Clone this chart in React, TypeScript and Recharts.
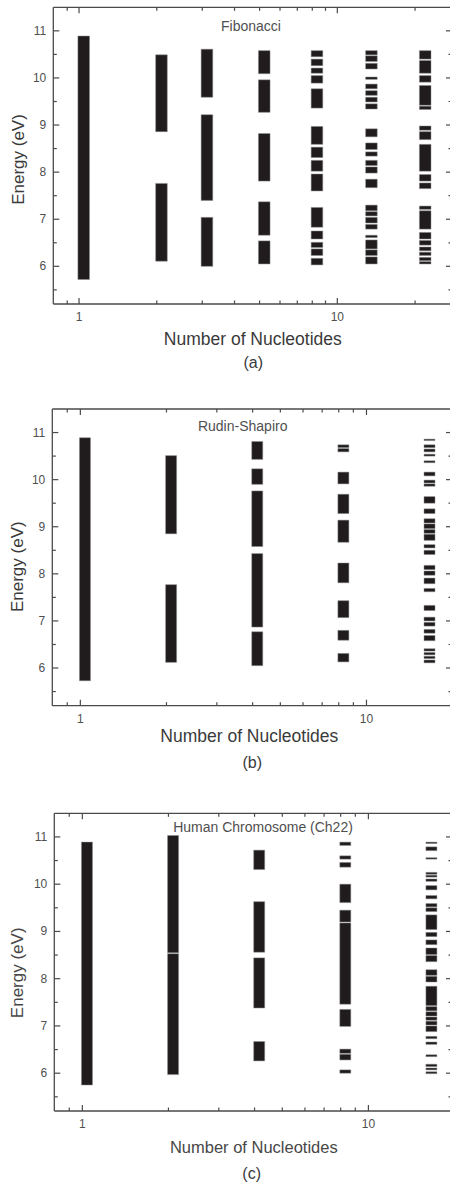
import React from 'react';
import { ComposedChart, XAxis, YAxis, ReferenceArea, Scatter } from 'recharts';

type Band = [number, number];

// ---------- data: number of nucleotides (columns) ----------
const FIB_N = [1, 2, 3, 5, 8, 13, 21];
const RS_N = [1, 2, 4, 8, 16];
const CH_N = [1, 2, 4, 8, 16];

// ---------- data: allowed energy bands [low, high] in eV ----------
const FIB_1: Band[] = [[5.72, 10.89]];
const FIB_2: Band[] = [[8.86, 10.49], [6.11, 7.76]];
const FIB_3: Band[] = [[9.59, 10.61], [7.4, 9.22], [6.0, 7.04]];
const FIB_5: Band[] = [[10.09, 10.58], [9.27, 9.96], [7.81, 8.82], [6.66, 7.37], [6.05, 6.54]];
const FIB_8: Band[] = [
  [10.45, 10.58], [10.26, 10.4], [10.1, 10.21], [9.89, 10.05], [9.36, 9.77],
  [8.59, 8.97], [8.31, 8.53], [8.02, 8.25], [7.6, 7.96],
  [6.83, 7.25], [6.58, 6.75], [6.4, 6.51], [6.23, 6.37], [6.03, 6.17],
];
const FIB_13: Band[] = [
  [10.49, 10.58], [10.35, 10.47], [10.19, 10.31], [9.97, 10.02], [9.77, 9.87],
  [9.63, 9.73], [9.49, 9.59], [9.34, 9.45],
  [8.75, 8.92], [8.48, 8.62], [8.34, 8.43], [8.14, 8.25], [7.98, 8.11], [7.67, 7.85],
  [7.18, 7.3], [7.07, 7.16], [6.92, 7.04], [6.79, 6.89], [6.61, 6.66], [6.37, 6.56],
  [6.23, 6.35], [6.05, 6.2],
];
const FIB_21: Band[] = [
  [10.4, 10.58], [10.1, 10.37], [9.91, 10.05], [9.42, 9.84], [9.33, 9.4],
  [8.89, 8.98], [8.69, 8.86], [8.02, 8.59], [7.81, 7.95], [7.65, 7.77],
  [7.21, 7.28], [6.79, 7.18], [6.58, 6.72], [6.45, 6.55], [6.33, 6.41],
  [6.23, 6.3], [6.12, 6.19], [6.05, 6.1],
];

const RS_1: Band[] = [[5.73, 10.89]];
const RS_2: Band[] = [[8.85, 10.51], [6.12, 7.77]];
const RS_4: Band[] = [[10.43, 10.81], [9.9, 10.23], [8.58, 9.76], [6.87, 8.43], [6.05, 6.77]];
const RS_8: Band[] = [
  [10.68, 10.74], [10.59, 10.66], [9.91, 10.16], [9.28, 9.69], [8.67, 9.14],
  [7.81, 8.23], [7.07, 7.43], [6.59, 6.8], [6.13, 6.31],
];
const RS_16: Band[] = [
  [10.83, 10.86], [10.68, 10.74], [10.59, 10.65], [10.5, 10.54], [10.36, 10.4],
  [10.08, 10.16], [9.93, 9.99], [9.86, 9.91], [9.5, 9.64], [9.28, 9.38],
  [9.08, 9.17], [8.96, 9.06], [8.86, 8.94], [8.71, 8.84], [8.55, 8.62],
  [8.41, 8.5], [8.09, 8.18], [7.97, 8.06], [7.79, 7.91], [7.62, 7.69],
  [7.22, 7.33], [7.0, 7.08], [6.89, 6.97], [6.74, 6.82], [6.58, 6.69],
  [6.36, 6.41], [6.28, 6.33], [6.2, 6.25], [6.11, 6.17],
];

const CH_1: Band[] = [[5.75, 10.89]];
const CH_2: Band[] = [[8.55, 11.03], [5.97, 8.53]];
const CH_4: Band[] = [[10.31, 10.72], [8.56, 9.63], [7.38, 8.44], [6.26, 6.67]];
const CH_8: Band[] = [
  [10.82, 10.89], [10.53, 10.6], [10.36, 10.46], [9.61, 10.0], [9.2, 9.45],
  [7.46, 9.18], [6.99, 7.35], [6.42, 6.51], [6.28, 6.4], [6.0, 6.07],
];
const CH_16: Band[] = [
  [10.86, 10.89], [10.71, 10.79], [10.53, 10.56], [10.21, 10.25], [10.15, 10.19],
  [10.06, 10.11], [9.88, 9.97], [9.69, 9.76], [9.52, 9.59], [9.42, 9.5],
  [9.04, 9.35], [8.89, 8.98], [8.72, 8.82], [8.51, 8.65], [8.36, 8.49],
  [8.07, 8.19], [7.93, 8.05], [7.43, 7.84], [7.32, 7.41], [7.21, 7.3],
  [7.12, 7.19], [7.02, 7.1], [6.88, 7.0], [6.73, 6.78], [6.61, 6.66],
  [6.35, 6.39], [6.14, 6.19], [6.07, 6.11], [5.99, 6.03],
];

const FIB_COLS = [FIB_1, FIB_2, FIB_3, FIB_5, FIB_8, FIB_13, FIB_21];
const RS_COLS = [RS_1, RS_2, RS_4, RS_8, RS_16];
const CH_COLS = [CH_1, CH_2, CH_4, CH_8, CH_16];

// ---------- axis ticks ----------
const X_TICKS = [0.9, 1, 2, 3, 4, 5, 6, 7, 8, 9, 10, 20];
const X_MAJOR = [1, 10];
const Y_TICKS = [5.5, 6, 6.5, 7, 7.5, 8, 8.5, 9, 9.5, 10, 10.5, 11];
const Y_MAJOR = [6, 7, 8, 9, 10, 11];
const Y_DOMAIN: [number, number] = [5.2, 11.5];

// ---------- styles ----------
const AXIS = '#4a4a4a';
const LABEL = '#505050';
const TITLE = '#3a3a3a';
const BAR = '#201c1d';
const FONT = '"Liberation Sans", Arial, Helvetica, sans-serif';
const MAJOR_LEN = 6;
const MINOR_LEN = 3.5;

const BottomTick = (p: any) => {
  const { x, y, payload } = p;
  const major = X_MAJOR.includes(payload.value);
  return (
    <g>
      <line x1={x} x2={x} y1={y} y2={y - (major ? MAJOR_LEN : MINOR_LEN)} stroke={AXIS} strokeWidth={1.2} />
      {major && (
        <text x={x} y={y + 17} textAnchor="middle" fontSize={12} fill={LABEL} fontFamily={FONT}>
          {payload.value}
        </text>
      )}
    </g>
  );
};
const TopTick = (p: any) => {
  const { x, y, payload } = p;
  const major = X_MAJOR.includes(payload.value);
  return <line x1={x} x2={x} y1={y} y2={y + (major ? MAJOR_LEN : MINOR_LEN)} stroke={AXIS} strokeWidth={1.2} />;
};
const LeftTick = (p: any) => {
  const { x, y, payload } = p;
  const major = Y_MAJOR.includes(payload.value);
  return (
    <g>
      <line x1={x} x2={x + (major ? MAJOR_LEN : MINOR_LEN)} y1={y} y2={y} stroke={AXIS} strokeWidth={1.2} />
      {major && (
        <text x={x - 7} y={y + 4} textAnchor="end" fontSize={12} fill={LABEL} fontFamily={FONT}>
          {payload.value}
        </text>
      )}
    </g>
  );
};
const RightTick = (p: any) => {
  const { x, y, payload } = p;
  const major = Y_MAJOR.includes(payload.value);
  return <line x1={x} x2={x - (major ? MAJOR_LEN : MINOR_LEN)} y1={y} y2={y} stroke={AXIS} strokeWidth={1.2} />;
};

type PanelProps = {
  top: number;
  height: number;
  plotTop: number;
  plotBottom: number;
  plotLeft: number;
  xDomain: [number, number];
  ns: number[];
  cols: Band[][];
  f1: number;
  f2: number;
};

const CHART_W = 460;
const PLOT_RIGHT = 452;
const NoShape = () => <g />;

function Panel({ top, height, plotTop, plotBottom, plotLeft, xDomain, ns, cols, f1, f2 }: PanelProps) {
  const axisLine = { stroke: AXIS, strokeWidth: 1.3 };
  const anchors = cols.map((bands, i) => ({ n: ns[i], e: bands[bands.length - 1][0] }));
  return (
    <div style={{ position: 'absolute', left: 0, top }}>
      <ComposedChart width={CHART_W} height={height} margin={{ top: 0, right: 0, bottom: 0, left: 0 }}>
        <XAxis
          xAxisId="b"
          dataKey="n"
          orientation="bottom"
          type="number"
          scale="log"
          domain={xDomain}
          allowDataOverflow
          ticks={X_TICKS}
          interval={0}
          tickSize={0}
          tickMargin={0}
          height={height - plotBottom}
          axisLine={axisLine}
          tickLine={false}
          tick={BottomTick}
        />
        <XAxis
          xAxisId="t"
          dataKey="n"
          orientation="top"
          type="number"
          scale="log"
          domain={xDomain}
          allowDataOverflow
          ticks={X_TICKS}
          interval={0}
          tickSize={0}
          tickMargin={0}
          height={plotTop}
          axisLine={axisLine}
          tickLine={false}
          tick={TopTick}
        />
        <YAxis
          yAxisId="l"
          dataKey="e"
          orientation="left"
          type="number"
          domain={Y_DOMAIN}
          allowDataOverflow
          ticks={Y_TICKS}
          interval={0}
          tickSize={0}
          tickMargin={0}
          width={plotLeft}
          axisLine={axisLine}
          tickLine={false}
          tick={LeftTick}
        />
        <YAxis
          yAxisId="r"
          dataKey="e"
          orientation="right"
          type="number"
          domain={Y_DOMAIN}
          allowDataOverflow
          ticks={Y_TICKS}
          interval={0}
          tickSize={0}
          tickMargin={0}
          width={CHART_W - PLOT_RIGHT}
          axisLine={axisLine}
          tickLine={false}
          tick={RightTick}
        />
        <Scatter data={anchors} xAxisId="b" yAxisId="l" dataKey="e" shape={NoShape} isAnimationActive={false} />
        <Scatter data={anchors} xAxisId="t" yAxisId="r" dataKey="e" shape={NoShape} isAnimationActive={false} />
        {cols.map((bands, i) =>
          bands.map(([lo, hi], j) => (
            <ReferenceArea
              key={`${i}-${j}`}
              xAxisId="b"
              yAxisId="l"
              x1={ns[i] * f1}
              x2={ns[i] * f2}
              y1={lo}
              y2={hi}
              fill={BAR}
              fillOpacity={1}
              stroke="#8c8c8c"
              strokeWidth={0.5}
              ifOverflow="visible"
            />
          ))
        )}
      </ComposedChart>
    </div>
  );
}

const Txt = ({ x, y, size, children, rotate, color }: any) => (
  <text
    x={x}
    y={y}
    dy="0.35em"
    textAnchor="middle"
    fontSize={size}
    fill={color}
    fontFamily={FONT}
    transform={rotate ? `rotate(-90 ${x} ${y})` : undefined}
  >
    {children}
  </text>
);

export default function App() {
  return (
    <div style={{ position: 'absolute', left: 0, top: 0, width: 450, height: 1183, overflow: 'hidden', background: '#fff' }}>
      <Panel top={0} height={330} plotTop={7.3} plotBottom={304} plotLeft={53.3} xDomain={[0.795, 27.8]} ns={FIB_N} cols={FIB_COLS} f1={0.99} f2={1.098} />
      <Panel top={400} height={330} plotTop={9} plotBottom={305.7} plotLeft={52.3} xDomain={[0.798, 19.9]} ns={RS_N} cols={RS_COLS} f1={0.993} f2={1.085} />
      <Panel top={800} height={340} plotTop={13.3} plotBottom={311} plotLeft={54.3} xDomain={[0.798, 19.6]} ns={CH_N} cols={CH_COLS} f1={0.993} f2={1.085} />
      <svg width={450} height={1183} style={{ position: 'absolute', left: 0, top: 0, pointerEvents: 'none' }}>
        <Txt x={251} y={25.7} size={14} color={LABEL}>Fibonacci</Txt>
        <Txt x={18.3} y={159.5} size={17} color={TITLE} rotate>Energy (eV)</Txt>
        <Txt x={252.8} y={339} size={17.5} color={TITLE}>Number of Nucleotides</Txt>
        <Txt x={253.3} y={362.7} size={16} color={TITLE}>(a)</Txt>

        <Txt x={242.7} y={426} size={14} color={LABEL}>Rudin-Shapiro</Txt>
        <Txt x={17} y={566.7} size={17} color={TITLE} rotate>Energy (eV)</Txt>
        <Txt x={249.3} y={736.3} size={17.5} color={TITLE}>Number of Nucleotides</Txt>
        <Txt x={252.3} y={762.7} size={16} color={TITLE}>(b)</Txt>

        <Txt x={263} y={827.3} size={14} color={LABEL}>Human Chromosome (Ch22)</Txt>
        <Txt x={17.5} y={972.8} size={17} color="#474747" rotate>Energy (eV)</Txt>
        <Txt x={253.8} y={1147.2} size={16.5} color="#474747">Number of Nucleotides</Txt>
        <Txt x={251.7} y={1173} size={16} color={TITLE}>(c)</Txt>
      </svg>
    </div>
  );
}
